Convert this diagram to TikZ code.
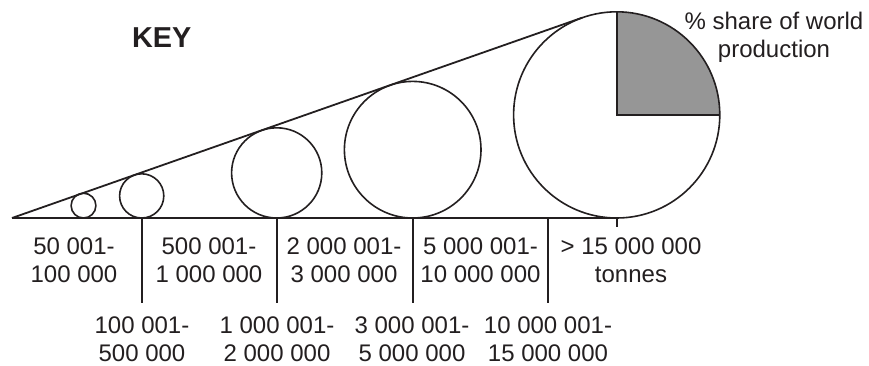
\documentclass[tikz,border=0pt]{standalone}
\usepackage{fontspec}
\setmainfont{Liberation Sans}
\usepackage{xcolor}
\usepackage{tikz}
\usetikzlibrary{positioning,calc}
\definecolor{pieshade}{RGB}{150,150,150}
\definecolor{ink}{RGB}{35,31,32}

\begin{document}
\begin{tikzpicture}[
  x=0.5pt, y=-0.5pt,
  ring/.style={draw=ink, circle, inner sep=0pt, outer sep=0pt, line width=0.8pt},
  lbl/.style={anchor=north, inner sep=0pt, align=center, text=ink,
              font=\fontsize{12}{14}\selectfont},
  rule/.style={draw=ink, line width=0.9pt},
]
  \useasboundingbox (0,0) rectangle (869,365);

  % Wedge
  \coordinate (apex) at (12,218);
  \coordinate (tip) at (582.5,17.6);

  % Circles, each touching both sides of the wedge
  \node[ring, minimum size=12.4pt] (c1) at (83.5,205.6) {};
  \node[ring, minimum size=22.1pt] (c2) at (141.7,195.9) {};
  \node[ring, minimum size=45.1pt] (c3) at (276.7,172.9) {};
  \node[ring, minimum size=68.3pt] (c4) at (412.7,149.7) {};
  \node[ring, minimum size=103.1pt,
        path picture={\fill[pieshade] (path picture bounding box.center)
                      rectangle (path picture bounding box.north east);}]
        (big) at (616.7,114.9) {};
  \draw[rule] (big.north) -- (big.center) -- (big.east);

  \draw[rule] (apex) -- (tip);
  \draw[rule] (apex) -- (big.south);

  % Dividers
  \coordinate (sep) at (548.3,218);
  \foreach \n in {c2,c3,c4,sep}
    \draw[rule] (\n.south) -- ++(0,84.7);
  \draw[rule] (big.south) -- ++(0,9);

  % Labels
  \node[inner sep=0pt, text=ink, font=\fontsize{14.4}{17}\selectfont\bfseries] (key) at (161.7,37.8) {KEY};
  \node[lbl] (share) at (774,11.7) {\% share of world\\production};

  \node[lbl] (r1) at (74,237) {50 001-\\100 000};
  \node[lbl] (r3) at (209,237) {500 001-\\1 000 000};
  \node[lbl] (r5) at (344,237) {2 000 001-\\3 000 000};
  \node[lbl] (r7) at (480.5,237) {5 000 001-\\10 000 000};
  \node[lbl] (r9) at (631,237) {> 15 000 000\\tonnes};

  \node[lbl] (r2) at (142,316.7) {100 001-\\500 000};
  \node[lbl] (r4) at (277,316.7) {1 000 001-\\2 000 000};
  \node[lbl] (r6) at (412,316.7) {3 000 001-\\5 000 000};
  \node[lbl] (r8) at (548,316.7) {10 000 001-\\15 000 000};
\end{tikzpicture}
\end{document}
